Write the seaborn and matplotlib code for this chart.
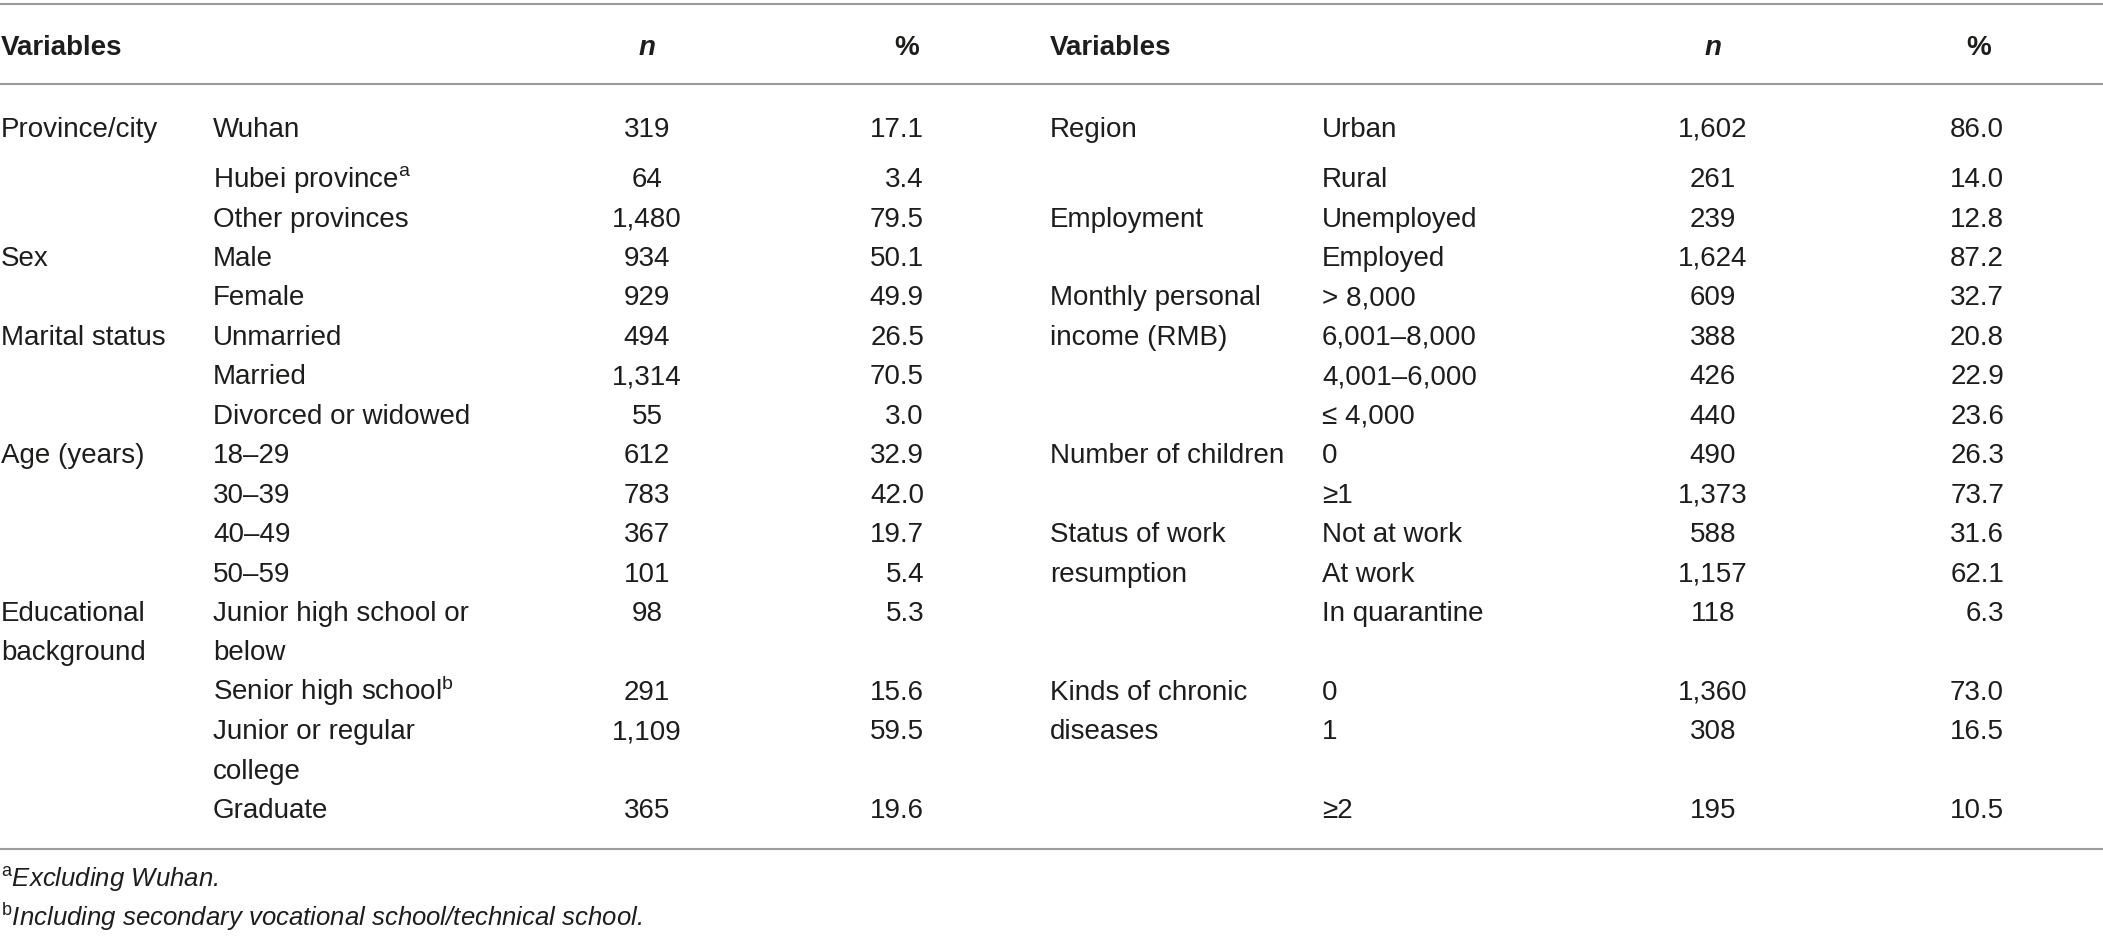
import seaborn as sns
import matplotlib.pyplot as plt

# table contents
header = ["Variables", "n", "%"]

left_var = ["Province/city", "", "", "Sex", "", "Marital status", "", "", "Age (years)",
            "", "", "", "Educational\nbackground", "", "", ""]
left_level = ["Wuhan", "Hubei province$^{\\mathrm{a}}$", "Other provinces", "Male", "Female",
              "Unmarried", "Married", "Divorced or widowed", "18–29", "30–39", "40–49", "50–59",
              "Junior high school or\nbelow", "Senior high school$^{\\mathrm{b}}$",
              "Junior or regular\ncollege", "Graduate"]
left_n = [319, 64, 1480, 934, 929, 494, 1314, 55, 612, 783, 367, 101, 98, 291, 1109, 365]
left_pct = [17.1, 3.4, 79.5, 50.1, 49.9, 26.5, 70.5, 3.0, 32.9, 42.0, 19.7, 5.4, 5.3, 15.6, 59.5, 19.6]

right_var = ["Region", "", "Employment", "", "Monthly personal\nincome (RMB)", "", "", "",
             "Number of children", "", "Status of work\nresumption", "", "",
             "Kinds of chronic\ndiseases", "", ""]
right_level = ["Urban", "Rural", "Unemployed", "Employed", "> 8,000", "6,001–8,000", "4,001–6,000",
               "≤ 4,000", "0", "≥1", "Not at work", "At work", "In quarantine", "0", "1", "≥2"]
right_n = [1602, 261, 239, 1624, 609, 388, 426, 440, 490, 1373, 588, 1157, 118, 1360, 308, 195]
right_pct = [86.0, 14.0, 12.8, 87.2, 32.7, 20.8, 22.9, 23.6, 26.3, 73.7, 31.6, 62.1, 6.3, 73.0, 16.5, 10.5]

footnotes = ["$^{\\mathrm{a}}$Excluding Wuhan.",
             "$^{\\mathrm{b}}$Including secondary vocational school/technical school."]

sns.set_theme(style="white")
plt.rcParams['font.family'] = ['Liberation Sans', 'DejaVu Sans']
plt.rcParams['mathtext.fontset'] = 'custom'
plt.rcParams['mathtext.rm'] = 'Liberation Sans'
plt.rcParams['mathtext.it'] = 'Liberation Sans:italic'
plt.rcParams['mathtext.bf'] = 'Liberation Sans:bold'

W, H = 2103, 938
fig = plt.figure(figsize=(W / 100, H / 100), dpi=100)
ax = fig.add_axes([0, 0, 1, 1])
ax.set_xlim(0, W)
ax.set_ylim(H, 0)
ax.axis('off')

ink = '#1d1d1b'
rule = '#9b9b9b'
fs = 20
base = 9.6  # half cap height in px, center -> baseline


def line_y(k):
    return 127 if k == 0 else 177.5 + (k - 1) * 39.44


def put(x, k, s, ha='left', **kw):
    ax.text(x, line_y(k) + base, s, ha=ha, va='baseline', fontsize=fs, color=ink, **kw)


# rules
for y in (4.5, 84.5, 849):
    ax.plot([0, W], [y, y], color=rule, lw=1.5, solid_capstyle='butt')

# header
cols = [(1, 213, 647, 924, 907), (1050, 1322, 1713, 2004, 1979)]
for xv, xl, xn, xp, xph in cols:
    ax.text(xv, 45 + base, header[0], fontsize=fs, fontweight='bold', color=ink, va='baseline')
    ax.text(xn, 45 + base, header[1], fontsize=fs, fontweight='bold', style='italic',
            color=ink, ha='center', va='baseline')
    ax.text(xph, 45 + base, header[2], fontsize=fs, fontweight='bold', color=ink,
            ha='center', va='baseline')

# body rows: both halves share row heights
k = 0
for i in range(len(left_level)):
    nlines = max(left_level[i].count('\n'), right_level[i].count('\n')) + 1
    halves = [(left_var[i], left_level[i], left_n[i], left_pct[i]),
              (right_var[i], right_level[i], right_n[i], right_pct[i])]
    for (var, lev, n, p), (xv, xl, xn, xp, _) in zip(halves, cols):
        for j, part in enumerate(var.split('\n')):
            if part:
                put(xv, k + j, part)
        for j, part in enumerate(lev.split('\n')):
            put(xl, k + j, part)
        put(xn, k, f"{n:,}", ha='center')
        put(xp, k, f"{p:.1f}", ha='right')
    k += nlines

# footnotes
for y, s in zip((878, 917), footnotes):
    ax.text(1, y + 9, s, fontsize=18.5, style='italic', color=ink, va='baseline')

fig.savefig('out.png', dpi=100)
